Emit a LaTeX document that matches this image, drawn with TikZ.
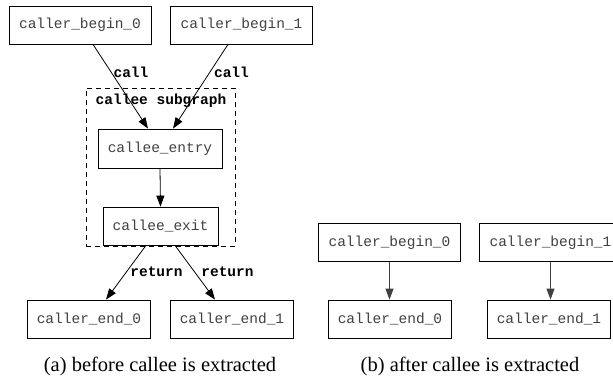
\documentclass[tikz,border=0pt]{standalone}
\usepackage{fontspec}
\setmainfont{Liberation Serif}
\setmonofont{Liberation Mono}
\usetikzlibrary{arrows.meta}
\begin{document}
\begin{tikzpicture}[x=1pt,y=-1pt,
  box/.style={draw,line width=0.8pt,inner sep=0pt,minimum height=38pt,font=\ttfamily\fontsize{14.5}{16}\selectfont,text=black!75},
  bbox/.style={box,minimum width=142pt},
  ebox/.style={box,minimum width=123pt},
  conn/.style={line width=0.8pt,-{Triangle[length=11pt,width=8pt]}},
  bconn/.style={conn,line width=1.1pt,draw=black!75},
  lbl/.style={font=\ttfamily\bfseries\fontsize{14.5}{16}\selectfont,inner sep=0pt},
  captxt/.style={font=\fontsize{20.5}{24}\selectfont,anchor=base,inner sep=0pt}]
\useasboundingbox (0,0) rectangle (613,378);
% (a)
\node[bbox] (cb0) at (80,25) {caller\_begin\_0};
\node[bbox] (cb1) at (241.5,25) {caller\_begin\_1};
\node[box,minimum width=124pt,minimum height=39pt] (entry) at (160,148.5) {callee\_entry};
\node[box,minimum width=115pt] (exit) at (160.5,226) {callee\_exit};
\node[ebox] (ce0) at (89,319) {caller\_end\_0};
\node[ebox] (ce1) at (232,319) {caller\_end\_1};
\node[draw,dash pattern=on 5pt off 4pt,line width=0.8pt,minimum width=149pt,minimum height=158pt,inner sep=0pt] (sub) at (160.5,167) {};
\node[lbl] (subl) at (161,101) {callee subgraph};
\draw[conn] ([xshift=13pt]cb0.south) -- ([xshift=-12pt]entry.north);
\draw[conn] ([xshift=-13.5pt]cb1.south) -- ([xshift=13pt]entry.north);
\draw[conn] (entry.south) -- (exit.north);
\draw[conn] ([xshift=-14.5pt]exit.south) -- ([xshift=17pt]ce0.north);
\draw[conn] ([xshift=14.5pt]exit.south) -- ([xshift=-17pt]ce1.north);
\node[lbl] (l1) at (131,72) {call};
\node[lbl] (l2) at (231.5,72) {call};
\node[lbl] (l3) at (156.5,272) {return};
\node[lbl] (l4) at (227.5,272) {return};
\node[captxt] (capa) at (160,371) {(a) before callee is extracted};
% (b)
\node[bbox] (bb0) at (389.5,242.5) {caller\_begin\_0};
\node[bbox] (bb1) at (550.5,242.5) {caller\_begin\_1};
\node[ebox] (be0) at (390,319) {caller\_end\_0};
\node[ebox] (be1) at (549,319) {caller\_end\_1};
\draw[bconn] (bb0.south) -- (bb0.south |- be0.north);
\draw[bconn] (bb1.south) -- (bb1.south |- be1.north);
\node[captxt] (capb) at (470,371) {(b) after callee is extracted};
\end{tikzpicture}
\end{document}
